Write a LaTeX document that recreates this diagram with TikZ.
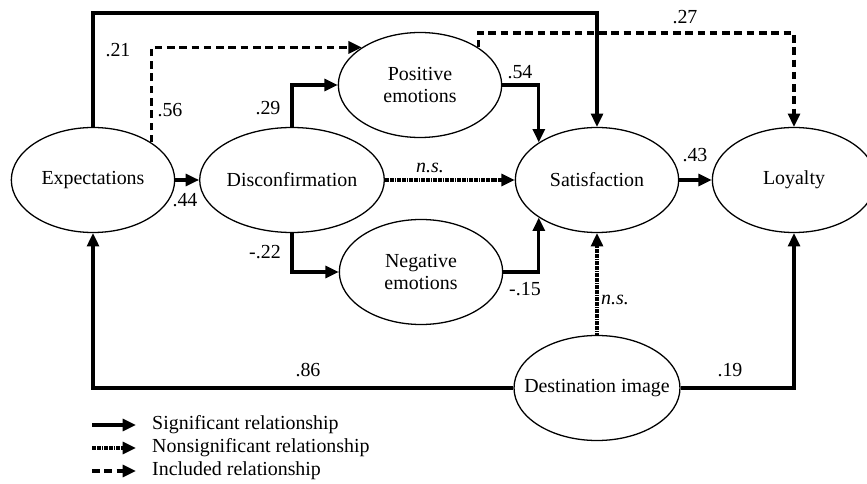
\documentclass[tikz,border=0pt]{standalone}
\usepackage{fontspec}
\setmainfont{Liberation Serif}
\usetikzlibrary{shapes.geometric,arrows.meta}
\begin{document}
\begin{tikzpicture}[x=0.03cm,y=-0.03cm,
  construct/.style={ellipse,draw,line width=1.1pt,minimum width=4.9cm,minimum height=3.15cm,
    inner sep=0pt,align=center,font=\fontsize{17}{19.5}\selectfont},
  coef/.style={font=\fontsize{17}{19.5}\selectfont,inner sep=0pt},
  sig/.style={line width=2.6pt,-{Triangle[length=0.4cm,width=0.36cm]}},
  nonsig/.style={sig,dash pattern=on 1.6pt off 0.45pt},
  incl/.style={sig,dash pattern=on 6.5pt off 4pt}]
\useasboundingbox (0,0) rectangle (867,484);

% constructs
\node[construct] (exp)  at (93,180)  {Expectations};
\node[construct] (dis)  at (292,180) {Disconfirmation};
\node[construct] (pos)  at (420,85)  {Positive\\emotions};
\node[construct] (neg)  at (421,272) {Negative\\emotions};
\node[construct] (sat)  at (597,180) {Satisfaction};
\node[construct] (loy)  at (794,180) {Loyalty};
\node[construct,inner xsep=-12pt] (dest) at (597,388) {Destination image};

% routing heights of the top lines
\coordinate (topA) at (0,13);
\coordinate (topB) at (0,33);

% paths
\draw[sig] (exp.north) -- (exp.north |- topA) -| (sat.north);
\draw[incl] (exp.north east) |- (pos.north west);
\draw[incl] (pos.north east) -- (pos.north east |- topB) -| (loy.north);
\draw[sig] (exp.east) -- (dis.west);
\draw[sig] (dis.north) |- (pos.west);
\draw[sig] (dis.south) |- (neg.west);
\draw[nonsig] (dis.east) -- (sat.west);
\draw[sig] (pos.east) -| (sat.north west);
\draw[sig] (neg.east) -| (sat.south west);
\draw[sig] (sat.east) -- (loy.west);
\draw[nonsig] (dest.north) -- (sat.south);
\draw[sig] (dest.west) -| (exp.south);
\draw[sig] (dest.east) -| (loy.south);

% coefficients
\node[coef] (c1)  at (118,50)  {.21};
\node[coef] (c2)  at (170,110) {.56};
\node[coef] (c3)  at (268,108) {.29};
\node[coef] (c4)  at (185,200) {.44};
\node[coef] (c5)  at (265,252) {-.22};
\node[coef] (c6)  at (430,168) {\textit{n.s.}};
\node[coef] (c7)  at (520,72)  {.54};
\node[coef] (c8)  at (525,289) {-.15};
\node[coef] (c9)  at (685,17)  {.27};
\node[coef] (c10) at (695,155) {.43};
\node[coef] (c11) at (615,300) {\textit{n.s.}};
\node[coef] (c12) at (308,370) {.86};
\node[coef] (c13) at (730,370) {.19};

% legend
\coordinate (l1a) at (92,425); \coordinate (l1b) at (136,425);
\coordinate (l2a) at (92,448); \coordinate (l2b) at (136,448);
\coordinate (l3a) at (92,471); \coordinate (l3b) at (136,471);
\draw[sig] (l1a) -- (l1b);
\draw[nonsig] (l2a) -- (l2b);
\draw[incl] (l3a) -- (l3b);
\node[coef,anchor=west] (t1) at (152,425) {Significant relationship};
\node[coef,anchor=west] (t2) at (152,448) {Nonsignificant relationship};
\node[coef,anchor=west] (t3) at (152,471) {Included relationship};
\end{tikzpicture}
\end{document}
